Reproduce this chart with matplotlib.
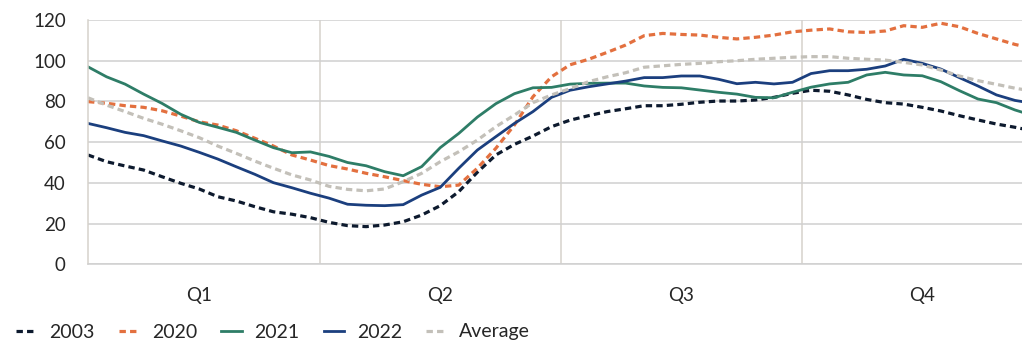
import numpy as np
import matplotlib
matplotlib.use('Agg')
import matplotlib.pyplot as plt

plt.rcParams['font.family'] = ['Lato', 'DejaVu Sans']

# weekly index values, weeks 1..52
weeks = np.arange(1, 53)

y2003 = [53.7, 50.4, 48.3, 46.3, 43.0, 39.8, 37.0, 33.2, 31.1, 28.3, 25.8, 24.6, 22.9,
         20.6, 19.0, 18.5, 19.3, 20.9, 24.2, 28.8, 35.7, 45.2, 53.7, 58.9, 63.0, 67.6,
         70.8, 73.0, 75.0, 76.4, 77.9, 77.9, 78.6, 79.6, 80.2, 80.2, 80.7, 82.0, 84.0,
         85.5, 85.0, 83.2, 81.0, 79.4, 78.7, 77.1, 75.3, 73.0, 70.9, 68.9, 67.3, 65.5]

y2020 = [79.9, 79.1, 77.9, 77.1, 75.4, 72.8, 70.0, 68.4, 65.6, 61.9, 58.1, 53.7, 51.2,
         48.5, 46.8, 44.7, 43.0, 41.1, 39.3, 38.1, 38.9, 47.2, 57.0, 68.4, 82.3, 92.1,
         98.0, 100.7, 104.1, 107.7, 112.3, 113.4, 112.9, 112.6, 111.5, 110.7, 111.5, 112.6, 114.2,
         115.0, 115.6, 114.2, 113.9, 114.6, 117.2, 116.4, 118.4, 116.7, 113.4, 110.7, 108.0, 106.0]

y2021 = [97.0, 92.1, 88.5, 83.6, 79.0, 73.7, 69.7, 67.3, 64.8, 61.0, 57.3, 54.8, 55.2,
         53.0, 50.0, 48.4, 45.5, 43.5, 48.0, 57.3, 64.3, 72.3, 78.9, 83.8, 86.7, 86.9,
         88.5, 88.9, 89.0, 89.0, 87.6, 86.9, 86.7, 85.6, 84.5, 83.6, 82.0, 81.8, 84.5,
         87.0, 88.6, 89.4, 93.0, 94.3, 93.0, 92.6, 89.7, 85.3, 81.2, 79.4, 75.8, 73.0]

y2022 = [69.2, 67.1, 64.8, 63.2, 60.6, 58.1, 55.0, 51.7, 47.9, 44.2, 40.1, 37.6, 34.9,
         32.5, 29.5, 29.0, 28.8, 29.3, 34.0, 37.8, 47.2, 56.1, 62.7, 69.2, 75.0, 82.0,
         85.5, 87.2, 88.6, 90.0, 91.7, 91.7, 92.5, 92.5, 90.9, 88.7, 89.4, 88.6, 89.4,
         93.7, 95.1, 95.1, 95.8, 97.4, 100.7, 98.7, 95.9, 91.7, 87.6, 83.2, 80.5, 79.0]

yavg = [81.8, 78.2, 75.0, 71.7, 68.8, 65.6, 62.2, 58.1, 54.5, 50.7, 47.2, 43.9, 41.4,
        38.3, 36.8, 36.1, 37.0, 40.6, 44.7, 50.4, 55.3, 61.0, 67.6, 73.3, 79.4, 83.2,
        86.3, 89.7, 92.1, 94.1, 96.8, 97.5, 98.2, 98.7, 99.5, 100.0, 100.7, 101.2, 101.7,
        102.0, 102.0, 101.2, 100.7, 100.3, 99.2, 97.9, 95.4, 92.5, 90.2, 88.4, 86.5, 85.0]

quarters = ['Q1', 'Q2', 'Q3', 'Q4']
quarter_edges = [13.5, 26.5, 39.5]
quarter_mids = [7, 20, 33, 46]

fig = plt.figure(figsize=(10.22, 3.44), dpi=100)
# axes run slightly past the right edge of the figure
ax = fig.add_axes([88 / 1022, (344 - 264.3) / 344, 954.8 / 1022, 244.3 / 344])

dash = (0, (2.0, 1.3))
ax.plot(weeks, y2003, color='#0d1a2e', lw=2.3, linestyle=dash, label='2003')
ax.plot(weeks, y2020, color='#e3703f', lw=2.3, linestyle=dash, label='2020')
ax.plot(weeks, y2021, color='#2e7d67', lw=2.0, label='2021')
ax.plot(weeks, y2022, color='#1b3f7e', lw=2.0, label='2022')
ax.plot(weeks, yavg, color='#c3c0b9', lw=2.3, linestyle=dash, label='Average')

ax.set_xlim(1, 52.5)
ax.set_ylim(0, 120)
ax.set_yticks(range(0, 121, 20))

ax.set_xticks(quarter_edges)
ax.set_xticklabels([])
ax.set_xticks(quarter_mids, minor=True)
ax.set_xticklabels(quarters, minor=True)
ax.tick_params(axis='x', which='both', length=0)
ax.tick_params(axis='x', which='minor', pad=16, labelsize=13.5, labelcolor='#262626')
ax.tick_params(axis='y', length=0, pad=16, labelsize=13.5, labelcolor='#262626')

ax.grid(axis='y', color='#d0d0d0', lw=1.1)
ax.grid(axis='x', which='major', color='#d6d2cb', lw=1.1)
ax.set_axisbelow(True)
for side in ['top', 'right']:
    ax.spines[side].set_visible(False)
ax.spines['left'].set_color('#d6d2cb')
ax.spines['bottom'].set_color('#d0d0d0')
ax.spines['left'].set_linewidth(1.1)
ax.spines['bottom'].set_linewidth(1.1)

fig.legend(loc='center left', bbox_to_anchor=(16 / 1022, 12 / 344), ncol=5,
           frameon=False, fontsize=14, handlelength=1.05, handletextpad=0.65,
           columnspacing=1.25, borderpad=0, borderaxespad=0, labelcolor='#262626')

fig.savefig('out.png', dpi=100)
